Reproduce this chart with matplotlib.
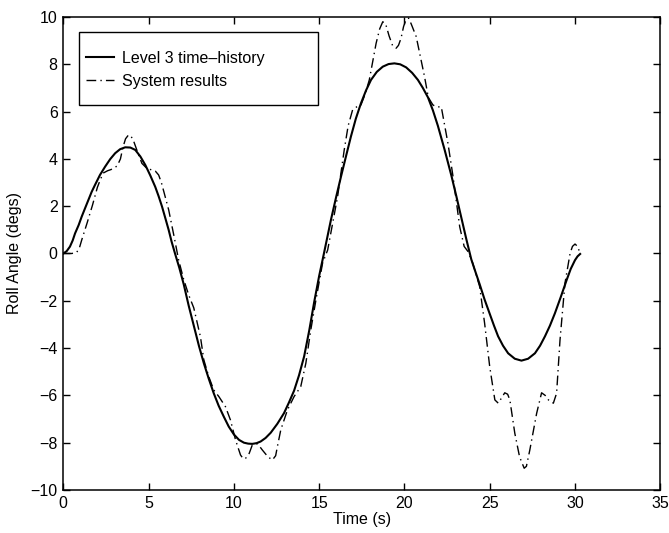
import numpy as np
import matplotlib.pyplot as plt
from matplotlib.patches import Rectangle

# =========================
# DATA
# =========================

# Level 3 time-history (solid)
t_level3 = [0.0, 0.2, 0.39, 0.55, 0.69, 0.9, 1.08, 1.28, 1.47, 1.66, 1.86,
            2.15, 2.45, 2.75, 3.04, 3.33, 3.63, 3.93, 4.22, 4.52, 4.81,
            5.1, 5.39, 5.59, 5.79, 5.98, 6.18, 6.35, 6.55, 6.8, 7.06,
            7.35, 7.65, 7.95, 8.24, 8.53, 8.82, 9.11, 9.41, 9.7, 10.0,
            10.3, 10.59, 10.84, 11.08, 11.33, 11.57, 11.86, 12.16, 12.55,
            12.94, 13.23, 13.53, 13.82, 14.12, 14.42, 14.71, 15.0, 15.28,
            15.69, 16.0, 16.28, 16.57, 16.86, 17.15, 17.45, 17.75, 18.04,
            18.38, 18.73, 19.07, 19.41, 19.75, 20.1, 20.45, 20.79, 21.08,
            21.38, 21.67, 21.96, 22.35, 22.75, 23.05, 23.34, 23.63, 23.92,
            24.15, 24.41, 24.7, 25.0, 25.25, 25.49, 25.78, 26.08, 26.47,
            26.86, 27.25, 27.65, 27.95, 28.24, 28.53, 28.82, 29.16, 29.51,
            29.75, 30.0, 30.15, 30.3]
y_level3 = [0.0, 0.1, 0.29, 0.55, 0.85, 1.2, 1.56, 1.92, 2.26, 2.6, 2.9,
            3.32, 3.67, 3.99, 4.24, 4.41, 4.49, 4.48, 4.38, 4.1, 3.74,
            3.3, 2.82, 2.42, 1.98, 1.5, 0.99, 0.5, 0.0, -0.6, -1.3,
            -2.2, -3.05, -3.9, -4.64, -5.3, -5.91, -6.44, -6.9, -7.32, -7.65,
            -7.88, -8.0, -8.04, -8.05, -8.02, -7.95, -7.8, -7.58, -7.2,
            -6.75, -6.3, -5.8, -5.15, -4.35, -3.25, -2.05, -0.95, 0.0,
            1.42, 2.4, 3.25, 4.1, 4.94, 5.7, 6.35, 6.9, 7.34,
            7.68, 7.9, 8.01, 8.04, 8.0, 7.87, 7.64, 7.34, 7.0,
            6.6, 6.05, 5.4, 4.4, 3.3, 2.4, 1.5, 0.6, -0.25,
            -0.75, -1.3, -1.95, -2.55, -3.05, -3.5, -3.9, -4.22, -4.45,
            -4.53, -4.45, -4.22, -3.9, -3.5, -3.05, -2.53, -1.85, -1.12,
            -0.65, -0.28, -0.12, -0.02]

# System results (dash-dot)
t_system = [0.0, 0.5, 0.79, 0.95, 1.08, 1.4, 1.71, 2.0, 2.16, 2.34, 2.6,
            2.8, 3.16, 3.35, 3.5, 3.65, 3.82, 3.95, 4.1, 4.35, 4.61, 4.9,
            5.2, 5.4, 5.59, 5.75, 5.9, 6.18, 6.5, 6.76, 7.06, 7.35, 7.65,
            8.04, 8.24, 8.53, 8.82, 9.12, 9.51, 9.8, 10.1, 10.39, 10.55,
            10.69, 10.9, 11.08, 11.4, 11.67, 12.0, 12.26, 12.45, 12.55, 12.75,
            13.14, 13.53, 13.92, 14.22, 14.51, 14.81, 15.2, 15.5, 16.08,
            16.47, 16.7, 16.96, 17.2, 17.45, 17.7, 17.94, 18.34, 18.55,
            18.73, 18.9, 19.1, 19.3, 19.51, 19.65, 19.8, 19.95, 20.1, 20.25,
            20.4, 20.69, 21.18, 21.4, 21.67, 21.9, 22.16, 22.55, 22.85,
            23.24, 23.5, 23.73, 24.0, 24.41, 24.7, 25.0, 25.3, 25.5, 25.7,
            25.88, 26.05, 26.18, 26.47, 26.75, 27.02, 27.15, 27.35, 27.75,
            28.04, 28.25, 28.44, 28.73, 28.92, 29.12, 29.41, 29.71, 29.85,
            30.0, 30.15, 30.3]
y_system = [0.0, 0.0, 0.05, 0.25, 0.57, 1.3, 2.04, 2.8, 3.1, 3.4, 3.5,
            3.55, 3.7, 4.0, 4.5, 4.85, 5.01, 4.98, 4.8, 4.3, 3.81, 3.6,
            3.53, 3.48, 3.32, 3.0, 2.6, 1.84, 0.7, -0.27, -1.1, -1.75, -2.3,
            -3.52, -4.5, -5.21, -5.77, -6.05, -6.48, -7.04, -7.89, -8.52, -8.68,
            -8.66, -8.45, -8.1, -8.05, -8.31, -8.6, -8.73, -8.55, -8.17, -7.46,
            -6.62, -6.05, -5.63, -4.64, -3.23, -1.97, -0.41, 0.15, 2.4,
            4.38, 5.4, 6.07, 6.2, 6.28, 6.75, 7.34, 8.89, 9.5,
            9.8, 9.7, 9.2, 8.8, 8.68, 8.8, 9.1, 9.6, 9.9, 9.95,
            9.7, 9.17, 7.47, 6.6, 6.28, 6.2, 6.2, 4.66, 3.25,
            1.13, 0.3, 0.08, -0.4, -1.4, -2.95, -4.79, -6.19, -6.33, -6.1,
            -5.89, -5.95, -6.19, -7.6, -8.6, -9.08, -9.0, -8.31, -6.76,
            -5.89, -6.0, -6.19, -6.33, -5.91, -3.66, -1.26, 0.0, 0.3,
            0.4, 0.3, 0.0]

x_ticks = [0, 5, 10, 15, 20, 25, 30, 35]
y_ticks = [-10, -8, -6, -4, -2, 0, 2, 4, 6, 8, 10]

# =========================
# PLOT
# =========================

plt.rcParams['font.family'] = ['Liberation Sans', 'DejaVu Sans']
fs = 11.5

fig = plt.figure(figsize=(6.69, 5.33), dpi=100)
ax = fig.add_axes([0.0946, 0.0807, 0.8924, 0.8874])

ax.plot(t_level3, y_level3, color='black', linewidth=1.5,
        label='Level 3 time\u2013history')
ax.plot(t_system, y_system, color='black', linewidth=1.0,
        linestyle=(0, (7, 3, 1, 3)), label='System results')

ax.set_xlim(0, 35)
ax.set_ylim(-10, 10)
ax.set_xticks(x_ticks)
ax.set_yticks(y_ticks)
ax.tick_params(direction='in', top=True, right=True, length=5,
               width=1, labelsize=fs, pad=4)

for s in ax.spines.values():
    s.set_linewidth(1.1)

ax.set_xlabel('Time (s)', fontsize=fs, labelpad=1)
ax.set_ylabel('Roll Angle (degs)', fontsize=fs, labelpad=6)

# legend box (wider than its text, as in the original)
ax.add_patch(Rectangle((0.026, 0.814), 0.40, 0.154, transform=ax.transAxes,
                       facecolor='white', edgecolor='black', linewidth=1.0,
                       zorder=4))
leg = ax.legend(loc='center left', bbox_to_anchor=(0.038, 0.888),
                fontsize=fs, frameon=False, handlelength=1.75,
                handletextpad=0.5, borderpad=0, labelspacing=0.5,
                borderaxespad=0)
leg.set_zorder(5)

plt.savefig('out.png', dpi=100)
plt.close()
